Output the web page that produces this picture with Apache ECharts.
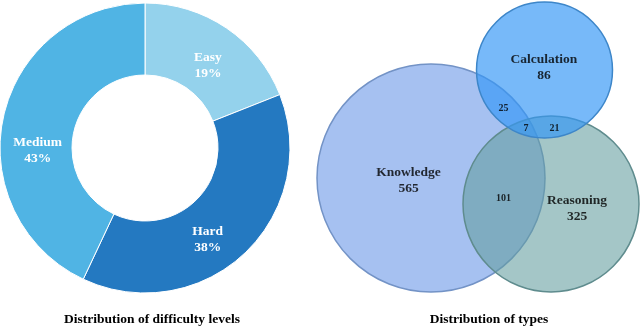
<!DOCTYPE html>
<html lang="en">
<head>
    <meta charset="UTF-8">
    <title>difficulty and types</title>
    <style>
        html, body { margin: 0; padding: 0; background: #fff; }
        #main { width: 640px; height: 327px; }
    </style>
</head>
<body>
<div id="main"></div>
<script src="https://cdn.jsdelivr.net/npm/echarts@6/dist/echarts.min.js"></script>
<script>
    // difficulty levels (percent)
    var levelNames = ['Easy', 'Hard', 'Medium'];
    var levelValues = [19, 38, 43];

    // question types: counts of each venn region
    var typeNames = ['Knowledge', 'Calculation', 'Reasoning'];
    var typeOnly = [565, 86, 325];
    var overlapNames = ['K&C', 'K&C&R', 'C&R', 'K&R'];
    var overlapValues = [25, 7, 21, 101];

    var titles = ['Distribution of difficulty levels', 'Distribution of types'];

    // layout only (venn drawn in a 300..640 x 0..327 frame)
    var circleGeom = [[431, 178, 114], [544.5, 70, 68], [551, 204, 88]];
    var circleFill = ['rgba(166,193,241,1)', 'rgba(52,151,246,0.67)', 'rgba(98,156,159,0.58)'];
    var circleEdge = ['#7393c6', '#3d86c9', '#5f8c8e'];
    var drawOrder = [0, 2, 1];
    var typeLabelPos = [[408.5, 180.5], [544, 67.5], [577, 208.5]];
    var overlapPos = [[503.5, 108.5], [526, 128], [554.5, 128], [503.5, 198]];
    var pieLabelShift = [[0, 10], [-14, 10], [2, 27]];

    var serif = "'Liberation Serif', 'Times New Roman', serif";
    var myChart = echarts.init(document.getElementById('main'));

    var pieData = levelNames.map(function (n, i) {
        return { name: n, value: levelValues[i], label: { offset: pieLabelShift[i] } };
    });

    var circles = drawOrder.map(function (k) {
        return { value: circleGeom[k], fill: circleFill[k], edge: circleEdge[k] };
    });

    var typeLabels = typeNames.map(function (n, i) {
        return { value: typeLabelPos[i], name: n, count: typeOnly[i] };
    });
    var overlapLabels = overlapNames.map(function (n, i) {
        return { value: overlapPos[i], name: n, count: overlapValues[i] };
    });

    var option = {
        animation: false,
        color: ['#94d2ec', '#2479c1', '#50b4e4'],
        grid: { left: 300, right: 0, top: 0, bottom: 0 },
        xAxis: { type: 'value', min: 300, max: 640, show: false },
        yAxis: { type: 'value', min: 0, max: 327, inverse: true, show: false },
        graphic: titles.map(function (t, i) {
            return {
                type: 'text',
                x: i === 0 ? 152 : 489,
                y: 320,
                style: {
                    text: t,
                    textAlign: 'center',
                    textVerticalAlign: 'middle',
                    fontFamily: serif,
                    fontWeight: 'bold',
                    fontSize: 13.5,
                    fill: '#000'
                }
            };
        }),
        series: [
            {
                type: 'pie',
                center: [145, 148],
                radius: [73, 145],
                startAngle: 90,
                clockwise: true,
                itemStyle: { borderColor: '#fff', borderWidth: 1 },
                label: {
                    show: true,
                    position: 'inside',
                    formatter: '{b}\n{d}%',
                    color: '#fff',
                    fontFamily: serif,
                    fontWeight: 'bold',
                    fontSize: 13.5,
                    lineHeight: 16
                },
                labelLine: { show: false },
                data: pieData
            },
            {
                type: 'custom',
                coordinateSystem: 'cartesian2d',
                renderItem: function (params, api) {
                    var c = api.coord([api.value(0), api.value(1)]);
                    var r = api.size([api.value(2), 0])[0];
                    var d = circles[params.dataIndex];
                    return {
                        type: 'circle',
                        shape: { cx: c[0], cy: c[1], r: r },
                        style: { fill: d.fill, stroke: d.edge, lineWidth: 1.5 }
                    };
                },
                data: circles
            },
            {
                type: 'scatter',
                symbolSize: 0,
                z: 5,
                label: {
                    show: true,
                    position: 'inside',
                    formatter: function (p) { return p.data.name + '\n' + p.data.count; },
                    color: '#000',
                    fontFamily: serif,
                    fontWeight: 'bold',
                    fontSize: 13.5,
                    lineHeight: 16
                },
                data: typeLabels
            },
            {
                type: 'scatter',
                symbolSize: 0,
                z: 5,
                label: {
                    show: true,
                    position: 'inside',
                    formatter: function (p) { return p.data.count; },
                    color: '#000',
                    fontFamily: serif,
                    fontWeight: 'bold',
                    fontSize: 10
                },
                data: overlapLabels
            }
        ]
    };

    myChart.setOption(option);
</script>
</body>
</html>
